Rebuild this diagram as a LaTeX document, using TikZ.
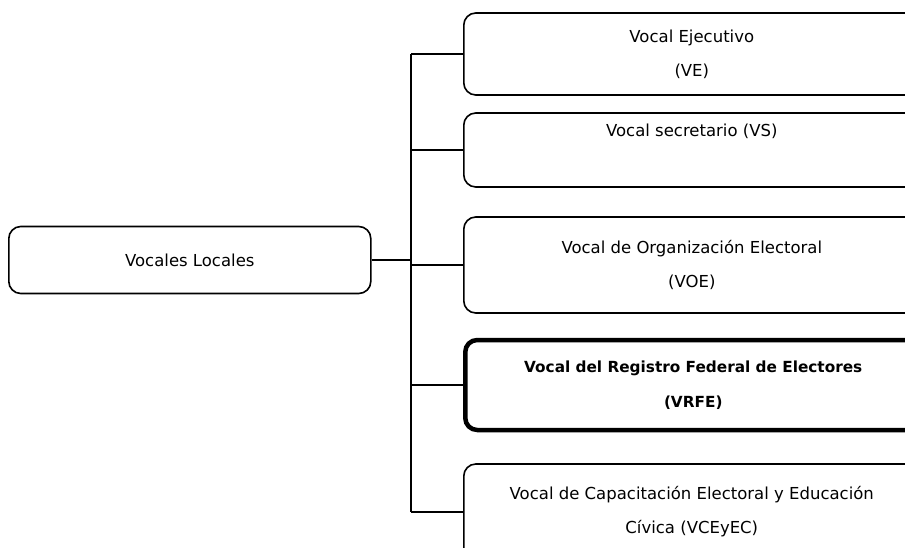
\documentclass[tikz,border=0pt]{standalone}
\usepackage{fontspec}
\setmainfont{DejaVu Sans}
\usepackage{tikz}

\tikzset{
  vocalbox/.style={draw, line width=1.6pt, rounded corners=12pt, align=center,
    font=\fontsize{16.5}{34}\selectfont, inner sep=0pt},
  rightbox/.style={vocalbox, minimum width=456pt, anchor=west},
  link/.style={line width=1.5pt}
}

\begin{document}
\begin{tikzpicture}[x=1pt,y=-1pt]
% Page frame (reference is cropped on the right and bottom)
\clip (0,0) rectangle (905,548);
% Root box
\node[vocalbox, minimum width=362pt, minimum height=67pt, anchor=west] (loc) at (8,260) {Vocales Locales};
% Branch boxes
\node[rightbox, minimum height=82pt] (ve) at (463,54) {Vocal Ejecutivo\\(VE)};
\node[rightbox, minimum height=74pt] (vs) at (463,150) {Vocal secretario (VS)\\[-4pt]\strut};
\node[rightbox, minimum height=96pt] (voe) at (463,265) {Vocal de Organización Electoral\\(VOE)};
\node[rightbox, minimum height=90pt, line width=4.5pt, font=\bfseries\fontsize{15.3}{35}\selectfont] (vrfe) at (463,385) {Vocal del Registro Federal de Electores\\(VRFE)};
\node[rightbox, minimum height=96pt] (vce) at (463,512) {Vocal de Capacitación Electoral y Educación\\Cívica (VCEyEC)};
% Connectors
\coordinate (tr) at (411,260);
\draw[link] (loc.east) -- (tr);
\draw[link] (tr |- ve.west) -- (tr |- vce.west);
\foreach \b in {ve,vs,voe,vrfe,vce}
  \draw[link] (tr |- \b.west) -- (\b.west);
\end{tikzpicture}
\end{document}
